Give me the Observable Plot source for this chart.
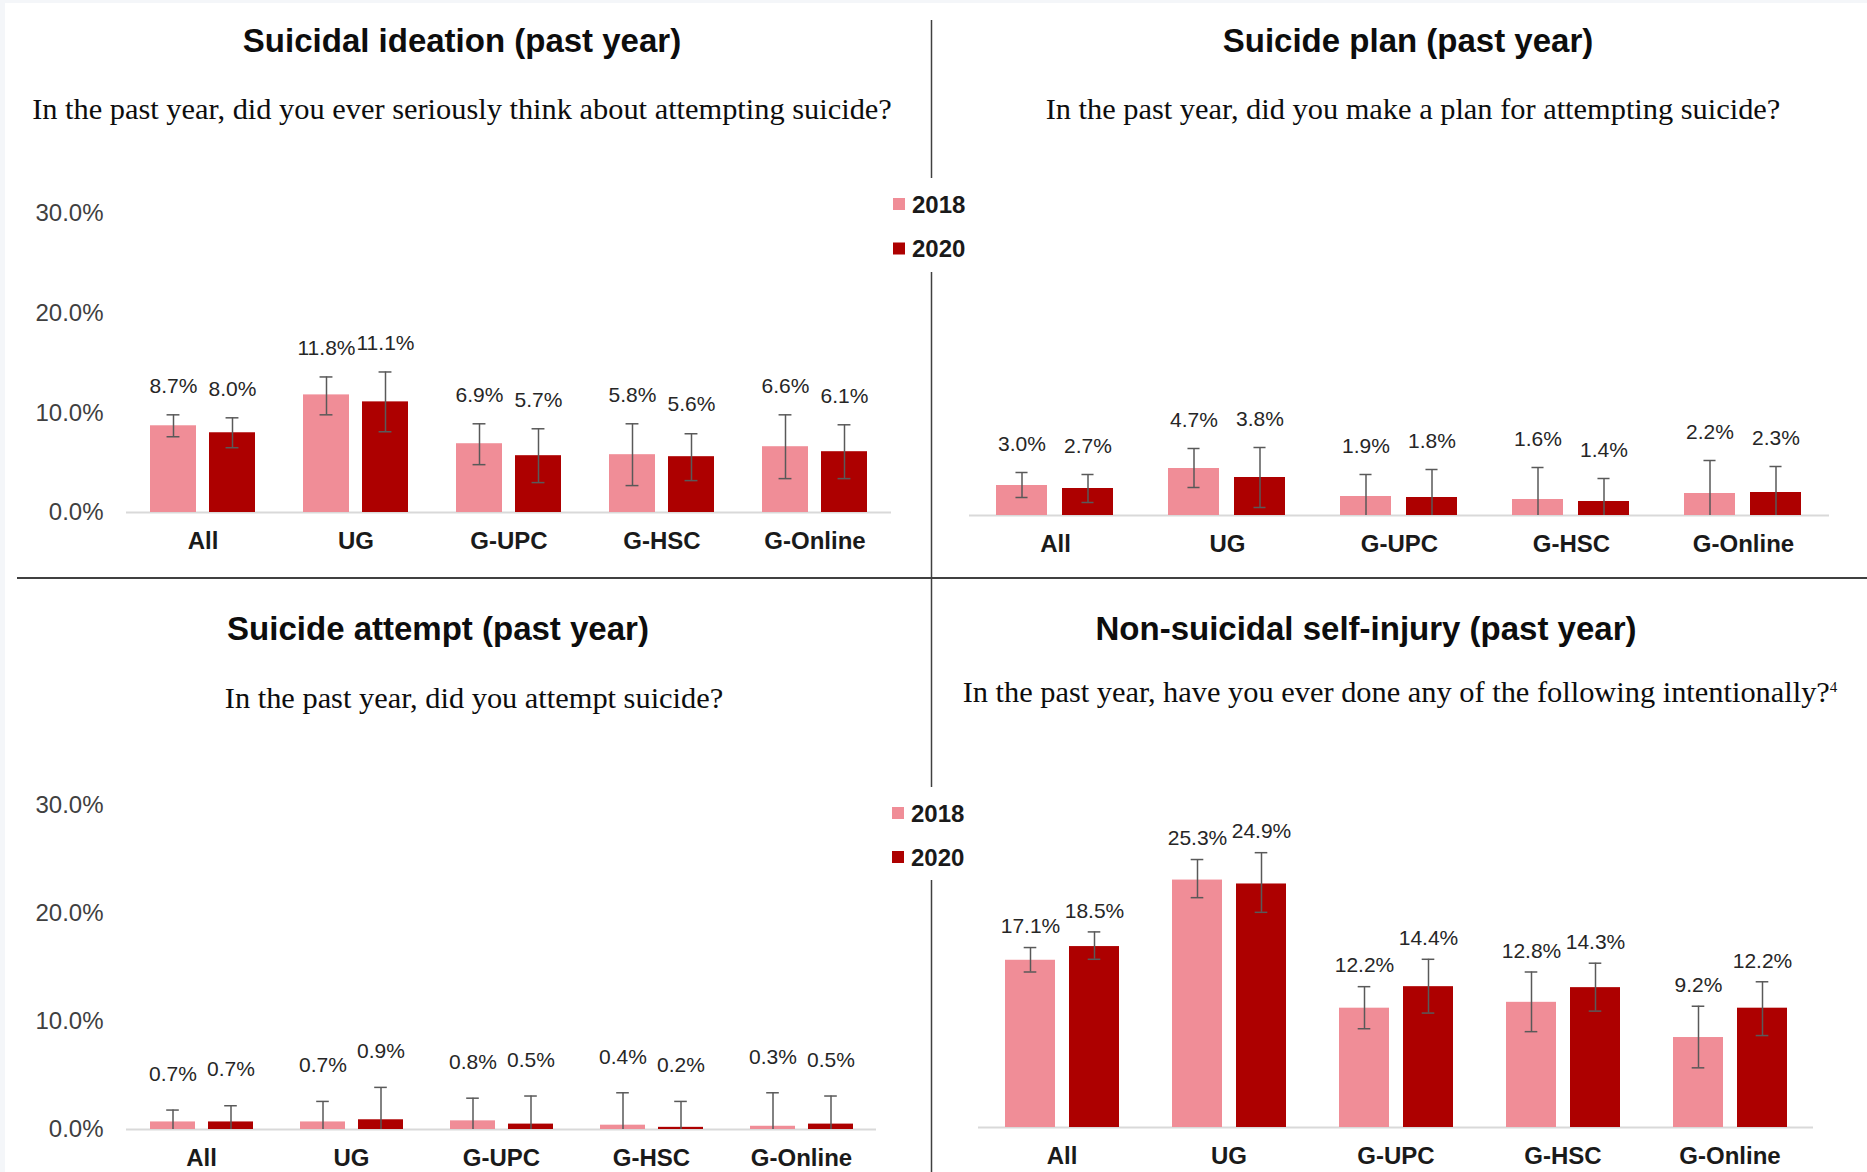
<!DOCTYPE html>
<html>
<head>
<meta charset="utf-8">
<script src="https://cdn.jsdelivr.net/npm/d3@7"></script>
<script src="https://cdn.jsdelivr.net/npm/@observablehq/plot@0.6"></script>
<style>
  html, body { margin: 0; padding: 0; background: #f4f6f9; }
  #root { position: relative; width: 1867px; height: 1172px; overflow: hidden; }
  #page { position: absolute; left: 5px; top: 3px; right: 0; bottom: 0; background: #ffffff; }
  .panel { position: absolute; }
  .panel svg { overflow: visible; display: block; }
  #overlay { position: absolute; left: 0; top: 0; pointer-events: none; }
</style>
</head>
<body>
<div id="root"><div id="page"></div></div>
<script>
// ---------- data ----------
const categories = ["All", "UG", "G-UPC", "G-HSC", "G-Online"];
const years = ["2018", "2020"];
const yearColors = ["#f08d97", "#ad0000"];
const yTicks = [0, 10, 20, 30];

// Suicidal ideation (past year)
const ideation2018 = [8.7, 11.8, 6.9, 5.8, 6.6];
const ideation2020 = [8.0, 11.1, 5.7, 5.6, 6.1];
const ideationLo2018 = [7.6, 9.8, 4.8, 2.7, 3.4];
const ideationHi2018 = [9.8, 13.6, 8.9, 8.9, 9.8];
const ideationLo2020 = [6.5, 8.1, 3.0, 3.2, 3.4];
const ideationHi2020 = [9.5, 14.1, 8.4, 7.9, 8.8];

// Suicide plan (past year)
const plan2018 = [3.0, 4.7, 1.9, 1.6, 2.2];
const plan2020 = [2.7, 3.8, 1.8, 1.4, 2.3];
const planLo2018 = [1.8, 2.8, 0, 0, 0];
const planHi2018 = [4.3, 6.7, 4.1, 4.8, 5.5];
const planLo2020 = [1.3, 0.8, 0, 0, 0];
const planHi2020 = [4.1, 6.8, 4.6, 3.7, 4.9];

// Suicide attempt (past year)
const attempt2018 = [0.7, 0.7, 0.8, 0.4, 0.3];
const attempt2020 = [0.7, 0.9, 0.5, 0.2, 0.5];
const attemptLo2018 = [0, 0, 0, 0, 0];
const attemptHi2018 = [1.8, 2.6, 2.9, 3.4, 3.4];
const attemptLo2020 = [0, 0, 0, 0, 0];
const attemptHi2020 = [2.2, 3.9, 3.1, 2.6, 3.1];

// Non-suicidal self-injury (past year)
const nssi2018 = [17.1, 25.3, 12.2, 12.8, 9.2];
const nssi2020 = [18.5, 24.9, 14.4, 14.3, 12.2];
const nssiLo2018 = [15.9, 23.5, 10.1, 9.8, 6.1];
const nssiHi2018 = [18.4, 27.4, 14.4, 15.9, 12.4];
const nssiLo2020 = [17.2, 22.0, 11.7, 11.9, 9.4];
const nssiHi2020 = [20.0, 28.1, 17.2, 16.8, 14.9];

// ---------- helpers ----------
function tidy(v18, v20, lo18, hi18, lo20, hi20) {
  const out = [];
  categories.forEach((c, i) => {
    out.push({cat: c, year: years[0], value: v18[i], lo: lo18[i], hi: hi18[i]});
    out.push({cat: c, year: years[1], value: v20[i], lo: lo20[i], hi: hi20[i]});
  });
  return out;
}

const SANS = "'Liberation Sans', Arial, sans-serif";
const SERIF = "'Liberation Serif', 'Times New Roman', serif";
const root = document.getElementById("root");

function panel(data, o) {
  const innerW = o.width - o.marginLeft - o.marginRight;
  const step = innerW / categories.length;
  const pi = 0.225, po = 0.4;
  const bw = step / (2 - pi + 2 * po) * (1 - pi);
  const inset = (bw - 13) / 2;
  const errColor = "#595959";
  const marks = [
    Plot.ruleY([0], {stroke: "#d9d9d9", strokeWidth: 2}),
    Plot.barY(data, {fx: "cat", x: "year", y: "value", fill: "year"}),
    Plot.ruleX(data, {fx: "cat", x: "year", y1: "lo", y2: "hi", stroke: errColor, strokeWidth: 1.5}),
    Plot.tickY(data, {fx: "cat", x: "year", y: "hi", insetLeft: inset, insetRight: inset, stroke: errColor, strokeWidth: 1.5}),
    Plot.tickY(data.filter(d => d.lo > 0), {fx: "cat", x: "year", y: "lo", insetLeft: inset, insetRight: inset, stroke: errColor, strokeWidth: 1.5}),
    Plot.text(data, {fx: "cat", x: "year", y: "hi", text: d => d.value.toFixed(1) + "%",
      dy: o.labelDy, lineAnchor: "middle", fontSize: 21, fill: "#262626"}),
    Plot.axisFx({anchor: "bottom", tickSize: 0, tickPadding: 19.5, fontSize: 24, fontWeight: "bold", fill: "#1a1a1a", label: null})
  ];
  if (o.yAxis) {
    marks.push(Plot.axisY({ticks: yTicks, tickFormat: d => d.toFixed(1) + "%", tickSize: 0, tickPadding: 23,
      fontSize: 24, fill: "#404040", label: null}));
  }
  const chart = Plot.plot({
    width: o.width, height: o.height,
    marginTop: o.marginTop, marginBottom: o.marginBottom,
    marginLeft: o.marginLeft, marginRight: o.marginRight,
    style: {background: "transparent", fontFamily: SANS, overflow: "visible"},
    fx: {domain: categories, padding: 0, label: null},
    x: {domain: years, paddingInner: pi, paddingOuter: po, axis: null},
    y: o.yAxis ? {domain: [0, 30]} : {domain: [0, 30], axis: null},
    color: {domain: years, range: yearColors},
    marks
  });
  const div = document.createElement("div");
  div.className = "panel";
  div.style.left = o.left + "px";
  div.style.top = o.top + "px";
  div.appendChild(chart);
  root.appendChild(div);
}

panel(tidy(ideation2018, ideation2020, ideationLo2018, ideationHi2018, ideationLo2020, ideationHi2020),
  {left: 0, top: 150, width: 931, height: 430, marginLeft: 125, marginRight: 40, marginTop: 63, marginBottom: 68, yAxis: true, labelDy: -29});
panel(tidy(plan2018, plan2020, planLo2018, planHi2018, planLo2020, planHi2020),
  {left: 931, top: 150, width: 936, height: 430, marginLeft: 36, marginRight: 37, marginTop: 65, marginBottom: 65, yAxis: false, labelDy: -28});
panel(tidy(attempt2018, attempt2020, attemptLo2018, attemptHi2018, attemptLo2020, attemptHi2020),
  {left: 0, top: 740, width: 931, height: 432, marginLeft: 124, marginRight: 53, marginTop: 65, marginBottom: 43, yAxis: true, labelDy: -36});
panel(tidy(nssi2018, nssi2020, nssiLo2018, nssiHi2018, nssiLo2020, nssiHi2020),
  {left: 931, top: 740, width: 936, height: 432, marginLeft: 46, marginRight: 53, marginTop: 93.6, marginBottom: 45, yAxis: false, labelDy: -21});

// ---------- titles, subtitles, legends, dividers ----------
const ov = d3.select("#root").append("svg").attr("id", "overlay").attr("width", 1867).attr("height", 1172);

const titles = [
  {x: 462, y: 52, t: "Suicidal ideation (past year)"},
  {x: 1408, y: 52, t: "Suicide plan (past year)"},
  {x: 438, y: 640, t: "Suicide attempt (past year)"},
  {x: 1366, y: 640, t: "Non-suicidal self-injury (past year)"}
];
titles.forEach(d => ov.append("text").attr("x", d.x).attr("y", d.y).attr("text-anchor", "middle")
  .style("font-family", SANS).style("font-weight", "bold").style("font-size", "33px").attr("fill", "#0d0d0d").text(d.t));

const subs = [
  {x: 462, y: 119, t: "In the past year, did you ever seriously think about attempting suicide?"},
  {x: 1413, y: 118.5, t: "In the past year, did you make a plan for attempting suicide?"},
  {x: 474, y: 708, t: "In the past year, did you attempt suicide?"}
];
subs.forEach(d => ov.append("text").attr("x", d.x).attr("y", d.y).attr("text-anchor", "middle")
  .style("font-family", SERIF).style("font-size", "30.4px").attr("fill", "#0d0d0d").text(d.t));
const st = ov.append("text").attr("x", 1400).attr("y", 702).attr("text-anchor", "middle")
  .style("font-family", SERIF).style("font-size", "30.4px").attr("fill", "#0d0d0d");
st.append("tspan").text("In the past year, have you ever done any of the following intentionally?");
st.append("tspan").attr("dy", -10).style("font-size", "15px").text("4");

function legend(x, y1, y2) {
  [y1, y2].forEach((cy, i) => {
    ov.append("rect").attr("x", x).attr("y", cy - 6).attr("width", 12).attr("height", 12).attr("fill", yearColors[i]);
    ov.append("text").attr("x", x + 19).attr("y", cy + 8.6)
      .style("font-family", SANS).style("font-weight", "bold").style("font-size", "24px").attr("fill", "#1a1a1a").text(years[i]);
  });
}
legend(893, 204, 248.5);
legend(892, 813, 857);

const lineColor = "#404040";
[[20, 178], [272, 579], [579, 787], [880, 1172]].forEach(([a, b]) =>
  ov.append("line").attr("x1", 931.5).attr("x2", 931.5).attr("y1", a).attr("y2", b).attr("stroke", lineColor).attr("stroke-width", 1.5));
ov.append("line").attr("x1", 17).attr("x2", 1867).attr("y1", 578).attr("y2", 578).attr("stroke", lineColor).attr("stroke-width", 2);
</script>
</body>
</html>
